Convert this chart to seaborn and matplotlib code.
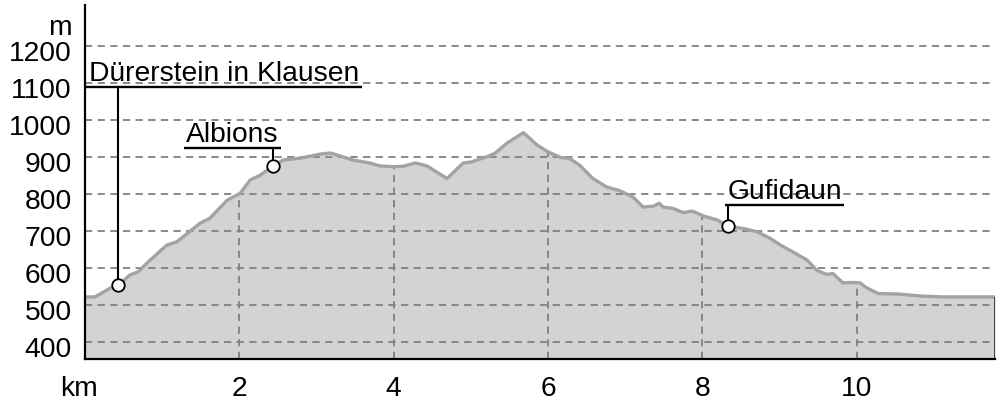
import matplotlib
matplotlib.use("Agg")
import matplotlib.pyplot as plt
import matplotlib.transforms as mtransforms
import seaborn as sns
import pandas as pd

# ---------------- data ----------------
distance_km = [0.00, 0.13, 0.32, 0.43, 0.58, 0.69, 0.80, 1.06, 1.19, 1.49, 1.62, 1.84,
               2.01, 2.14, 2.27, 2.44, 2.57, 2.79, 3.05, 3.18, 3.47, 3.69, 3.82, 3.99,
               4.12, 4.28, 4.43, 4.69, 4.90, 5.01, 5.21, 5.31, 5.47, 5.68, 5.86, 6.00,
               6.16, 6.28, 6.41, 6.58, 6.76, 6.93, 7.10, 7.23, 7.36, 7.44, 7.49, 7.62,
               7.75, 7.87, 8.01, 8.19, 8.33, 8.53, 8.71, 8.88, 9.01, 9.17, 9.36, 9.48,
               9.61, 9.69, 9.82, 9.95, 10.04, 10.11, 10.17, 10.28, 10.52, 10.86, 11.12,
               11.34, 11.60, 11.79]
elevation_m = [521, 521, 544, 552, 580, 589, 612, 661, 670, 720, 734, 782,
               801, 837, 850, 876, 891, 896, 907, 910, 891, 883, 875, 873,
               874, 883, 875, 841, 883, 886, 900, 909, 937, 965, 931, 913,
               898, 895, 877, 841, 818, 808, 791, 764, 766, 774, 764, 760,
               749, 753, 740, 729, 712, 706, 697, 679, 661, 643, 620, 593,
               582, 584, 559, 560, 559, 548, 541, 530, 529, 523, 521,
               521, 521, 521]

poi_names = ["Dürerstein in Klausen", "Albions", "Gufidaun"]
poi_km = [0.43, 2.44, 8.33]
poi_m = [552, 876, 712]

x_ticks = [2, 4, 6, 8, 10]
x_tick_labels = ["2", "4", "6", "8", "10"]
y_ticks = [400, 500, 600, 700, 800, 900, 1000, 1100, 1200]
y_tick_labels = ["400", "500", "600", "700", "800", "900", "1000", "1100", "1200"]
x_unit = "km"
y_unit = "m"

# ---------------- layout (label placement) ----------------
label_x = [0.05, 2.51, 8.32]          # text anchor x (km)
label_ha = ["left", "right", "left"]
label_line_y = [1088, 924, 769]       # underline height (m)

# ---------------- style ----------------
sns.set_theme(style="white")
plt.rcParams["font.family"] = ["Liberation Sans", "DejaVu Sans"]
plt.rcParams["text.color"] = "black"
FS = 20.3

df = pd.DataFrame({"km": distance_km, "m": elevation_m})

fig = plt.figure(figsize=(10.04, 4.03), dpi=100)
ax = fig.add_axes([85 / 1004, 43.7 / 403, 910 / 1004, 354.3 / 403])

ymin, ymax = 352.4, 1310
xmax = 11.79

area = ax.fill_between(df["km"], ymin, df["m"], color="#d3d3d3", linewidth=0, zorder=1)
sns.lineplot(data=df, x="km", y="m", ax=ax, color="#a3a3a3", linewidth=2.4,
             zorder=2, sort=False)
ax.vlines(distance_km[-1], ymin, elevation_m[-1], color="#333333", linewidth=1.3, zorder=3)

ax.set_xlim(0, xmax)
ax.set_ylim(ymin, ymax)
ax.set_xticks(x_ticks, x_tick_labels)
ax.set_yticks(y_ticks, y_tick_labels)
ax.set_xlabel("")
ax.set_ylabel("")
ax.tick_params(axis="both", length=0, labelsize=FS, colors="black")
ax.tick_params(axis="y", pad=9.5)
ax.tick_params(axis="x", pad=12)

ax.set_axisbelow("line")
ax.grid(True, color="#808080", linestyle=(0, (4, 3)), linewidth=1.3)

for s in ["top", "right"]:
    ax.spines[s].set_visible(False)
for s in ["left", "bottom"]:
    ax.spines[s].set_color("black")
    ax.spines[s].set_linewidth(1.6)
    ax.spines[s].set_zorder(5)

# unit labels
ax.annotate(y_unit, xy=(0, 1229), xycoords=("axes fraction", "data"),
            xytext=(-9.5, 0), textcoords="offset points",
            ha="right", va="baseline", fontsize=FS)
ax.annotate(x_unit, xy=(0, 0), xycoords=("data", "axes fraction"),
            xytext=(-4.5, -12), textcoords="offset points",
            ha="center", va="top", fontsize=FS)

# points of interest
texts = []
for name, lx, ha, ly in zip(poi_names, label_x, label_ha, label_line_y):
    t = ax.annotate(name, xy=(lx, ly), xytext=(0, 4.5), textcoords="offset points",
                    ha=ha, va="baseline", fontsize=FS, zorder=6)
    texts.append(t)

fig.canvas.draw()

# y tick labels sit slightly below their grid lines
shift = mtransforms.ScaledTranslation(0, -5 / 100, fig.dpi_scale_trans)
for lab in ax.get_yticklabels():
    lab.set_transform(lab.get_transform() + shift)

# vertical grid lines only inside the profile area
clip = area.get_paths()[0]
for gl in ax.xaxis.get_gridlines():
    gl.set_clip_path(clip, ax.transData)

renderer = fig.canvas.get_renderer()
inv = ax.transData.inverted()
for t, ly, px, py in zip(texts, label_line_y, poi_km, poi_m):
    bb = t.get_window_extent(renderer)
    x0 = inv.transform((bb.x0 - 2.5, 0))[0]
    x1 = inv.transform((bb.x1 + 2.5, 0))[0]
    ax.plot([x0, x1], [ly, ly], color="black", linewidth=1.7, zorder=6,
            solid_capstyle="butt", clip_on=False)
    ax.plot([px, px], [ly, py], color="black", linewidth=1.5, zorder=6, clip_on=False)

ax.plot(poi_km, poi_m, linestyle="none", marker="o", markersize=9,
        markerfacecolor="white", markeredgecolor="black", markeredgewidth=1.3,
        zorder=7, clip_on=False)

fig.savefig("out.png", dpi=100)
